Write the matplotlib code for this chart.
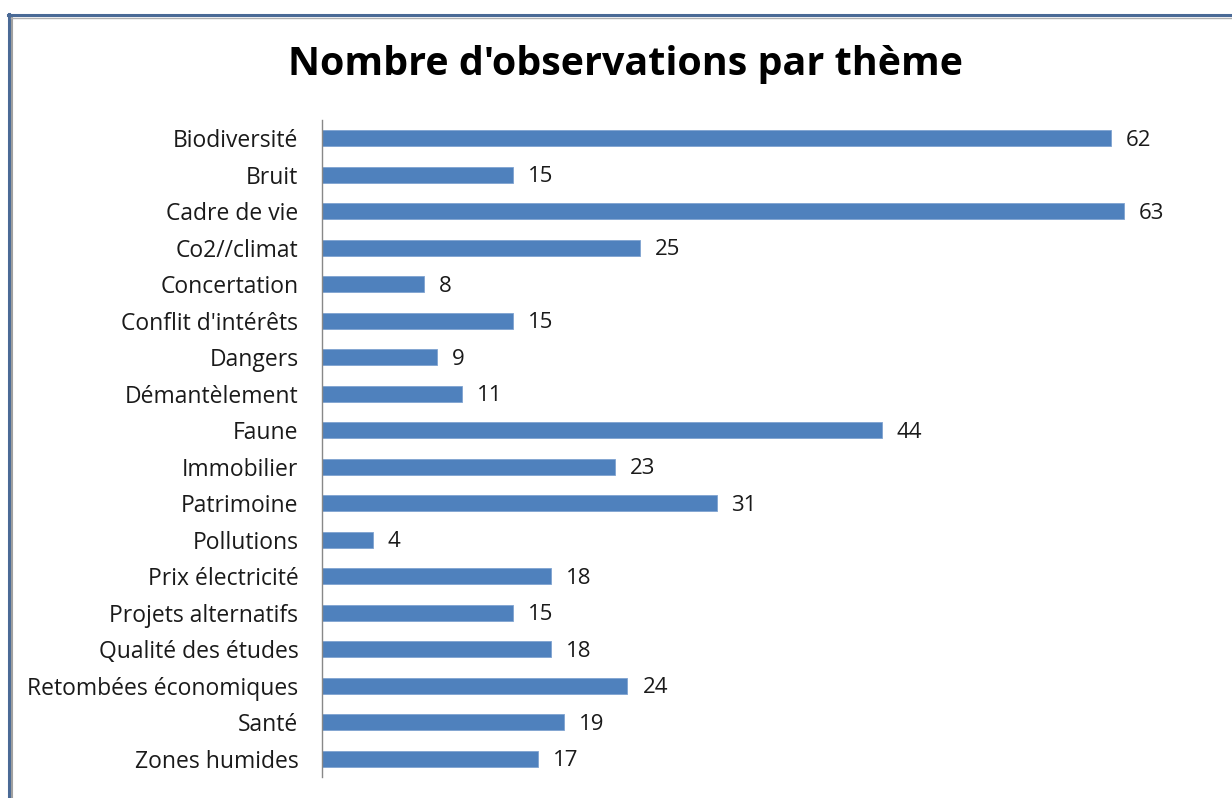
import matplotlib
matplotlib.use("Agg")
import matplotlib.pyplot as plt
from matplotlib.lines import Line2D

categories = ["Biodiversité", "Bruit", "Cadre de vie", "Co2//climat", "Concertation",
              "Conflit d'intérêts", "Dangers", "Démantèlement", "Faune", "Immobilier",
              "Patrimoine", "Pollutions", "Prix électricité", "Projets alternatifs",
              "Qualité des études", "Retombées économiques", "Santé", "Zones humides"]
values = [62, 15, 63, 25, 8, 15, 9, 11, 44, 23, 31, 4, 18, 15, 18, 24, 19, 17]
title = "Nombre d'observations par thème"

W, H = 1232, 798
fig = plt.figure(figsize=(W / 100, H / 100), dpi=100)
fig.patch.set_facecolor("white")

def fx(px): return px / W
def fy(py): return 1 - py / H

# Frame border (chart area)
fig.add_artist(Line2D([fx(8.5), fx(8.5)], [fy(14), fy(H + 5)], color="#4a6a96", lw=2.2))
fig.add_artist(Line2D([fx(11.5), fx(11.5)], [fy(17), fy(H + 5)], color="#a0a0a0", lw=1.5))
fig.add_artist(Line2D([fx(8), fx(W + 5)], [fy(15), fy(15)], color="#4a6a96", lw=2.2))
fig.add_artist(Line2D([fx(11), fx(W + 5)], [fy(17.5), fy(17.5)], color="#b0b0b0", lw=1.0))

# Axes positioned in pixels
left, right = 322, 1208
top, bottom = 120, 777
ax = fig.add_axes([fx(left), fy(bottom), (right - left) / W, (bottom - top) / H])
xmax = (right - left) / ((1111 - 322) / 62)
ax.set_xlim(0, xmax)
ax.set_ylim(len(categories) - 0.5, -0.5)

ypos = list(range(len(categories)))
ax.barh(ypos, values, height=0.45, color="#4F81BD", edgecolor="#7fa3d1", linewidth=0.6)

for y, v in zip(ypos, values):
    ax.annotate(str(v), xy=(v, y), xytext=(15, -2), textcoords="offset pixels",
                ha="left", va="center", fontsize=16, family="Open Sans", color="#1a1a1a")

ax.set_yticks(ypos)
ax.set_yticklabels(categories, fontsize=16.5, family="Open Sans", color="#1a1a1a")
ax.tick_params(axis="y", length=0, pad=17)
ax.set_xticks([])
for s in ["top", "right", "bottom"]:
    ax.spines[s].set_visible(False)
ax.spines["left"].set_color("#888888")
ax.spines["left"].set_linewidth(1.0)
ax.set_facecolor("none")

fig.text(fx(626), fy(65), title, ha="center", va="center", fontsize=28.4,
         fontweight="bold", family="Open Sans", color="black")

fig.savefig("out.png", dpi=100)
